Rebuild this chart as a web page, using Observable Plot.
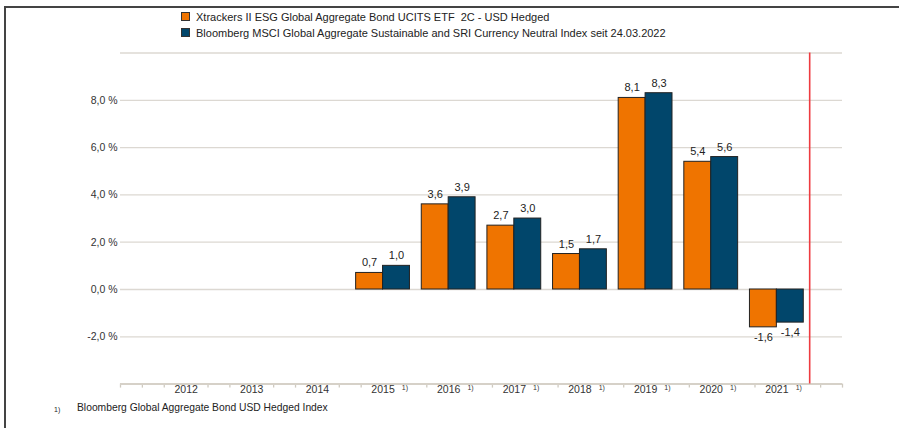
<!DOCTYPE html>
<html><head><meta charset="utf-8">
<script src="https://cdn.jsdelivr.net/npm/d3@7"></script>
<script src="https://cdn.jsdelivr.net/npm/@observablehq/plot@0.6"></script>
<style>
body{margin:0;background:#fff;font-family:"Liberation Sans",Arial,sans-serif;}
#wrap{position:relative;width:899px;height:428px;overflow:hidden;background:#fff;}
#frame{position:absolute;left:4px;top:6px;right:-4px;bottom:-4px;border-top:2px solid #444;border-left:2px solid #444;}
#chart{position:absolute;left:0;top:0;}
.leg{position:absolute;left:181px;font-size:11px;color:#222;line-height:14px;white-space:pre;}
.sw{display:inline-block;width:7px;height:7px;border:1px solid #333;margin-right:6px;}
.note{position:absolute;top:401px;font-size:10.3px;color:#222;line-height:14px;white-space:pre;}
</style></head><body>
<div id="wrap"><div id="frame"></div><div id="chart"></div></div>
<script>
// ---- data ----
const seriesNames = [
  "Xtrackers II ESG Global Aggregate Bond UCITS ETF  2C - USD Hedged",
  "Bloomberg MSCI Global Aggregate Sustainable and SRI Currency Neutral Index seit 24.03.2022"
];
const seriesColors = ["#ef7400", "#01466b"];
const years = [2015, 2016, 2017, 2018, 2019, 2020, 2021];
const fundValues = [0.7, 3.6, 2.7, 1.5, 8.1, 5.4, -1.6];
const indexValues = [1.0, 3.9, 3.0, 1.7, 8.3, 5.6, -1.4];
const axisYears = [2012, 2013, 2014, 2015, 2016, 2017, 2018, 2019, 2020, 2021];
const noteYears = [2015, 2016, 2017, 2018, 2019, 2020, 2021];
const yTicks = [-2, 0, 2, 4, 6, 8];
const gridValues = [-2, 0, 2, 4, 6, 8, 10];
const cutoffYear = 2021.5;
const footnoteMark = "1)";
const footnoteText = "Bloomberg Global Aggregate Bond USD Hedged Index";

// ---- derived tables ----
const fmt = v => v.toFixed(1).replace(".", ",");
const bars = [];
years.forEach((y, i) => {
  bars.push({year: y, s: 0, v: fundValues[i]});
  bars.push({year: y, s: 1, v: indexValues[i]});
});
const bw = 0.41;
const minorTicks = [];
for (let k = 0; k <= 33; k++) {
  const yr = 2011 + Math.floor(k / 3);
  if (k % 3 === 0 && k >= 3 && k <= 30) continue;
  if (k % 3 === 1 && noteYears.includes(yr)) continue;
  minorTicks.push(2011 + k / 3);
}
const labelX = d => d.s === 0 ? d.year - bw / 2 : d.year + bw / 2;

const chart = Plot.plot({
  width: 899, height: 428,
  marginLeft: 120, marginRight: 57, marginTop: 52.5, marginBottom: 44.4,
  x: {type: "linear", domain: [2011, 2022], label: null},
  y: {domain: [-4, 10], label: null},
  style: {fontFamily: "'Liberation Sans', Arial, sans-serif", fontSize: "10.5px", color: "#333", background: "transparent"},
  marks: [
    Plot.ruleY(gridValues, {x1: 2011, x2: 2022, stroke: "#dcd8d2", strokeWidth: 1.3}),
    Plot.axisX({ticks: minorTicks, tickSize: 4, tickFormat: () => "", stroke: "#cfcac0", strokeWidth: 1.3, label: null}),
    Plot.ruleY([-4], {x1: 2011, x2: 2022, stroke: "#d6d1c8", strokeWidth: 2}),
    Plot.axisX({ticks: axisYears, tickSize: 0, tickPadding: 1, tickFormat: d => String(d), fill: "#333", label: null}),
    Plot.axisY({ticks: yTicks, tickSize: 0, tickPadding: 3, tickFormat: d => fmt(d) + " %", fill: "#333", label: null}),
    Plot.text(noteYears, {x: d => d + 1/3, y: -4, text: () => footnoteMark, fontSize: 7, dy: 4, fill: "#333"}),
    Plot.rect(bars, {
      x1: d => d.s === 0 ? d.year - bw : d.year,
      x2: d => d.s === 0 ? d.year : d.year + bw,
      y1: 0, y2: "v",
      fill: d => seriesColors[d.s], stroke: "#222", strokeWidth: 1
    }),
    Plot.ruleX([cutoffYear], {y1: -4, y2: 10, stroke: "#ee3b40", strokeWidth: 1.6}),
    Plot.text(bars.filter(d => d.v >= 0), {x: labelX, y: "v", text: d => fmt(d.v), dy: -10, fontSize: 11, fill: "#222"}),
    Plot.text(bars.filter(d => d.v < 0), {x: labelX, y: "v", text: d => fmt(d.v), dy: 10, fontSize: 11, fill: "#222"})
  ]
});
document.getElementById("chart").appendChild(chart);

const wrap = document.getElementById("wrap");
seriesNames.forEach((name, i) => {
  const d = document.createElement("div");
  d.className = "leg";
  d.style.top = (10 + i * 16) + "px";
  const sw = document.createElement("span");
  sw.className = "sw";
  sw.style.background = seriesColors[i];
  d.appendChild(sw);
  d.appendChild(document.createTextNode(name));
  wrap.appendChild(d);
});
const m = document.createElement("div");
m.className = "note"; m.style.left = "54px"; m.style.fontSize = "7px"; m.style.top = "403px";
m.textContent = footnoteMark; wrap.appendChild(m);
const n = document.createElement("div");
n.className = "note"; n.style.left = "77px";
n.textContent = footnoteText; wrap.appendChild(n);
</script>
</body></html>
